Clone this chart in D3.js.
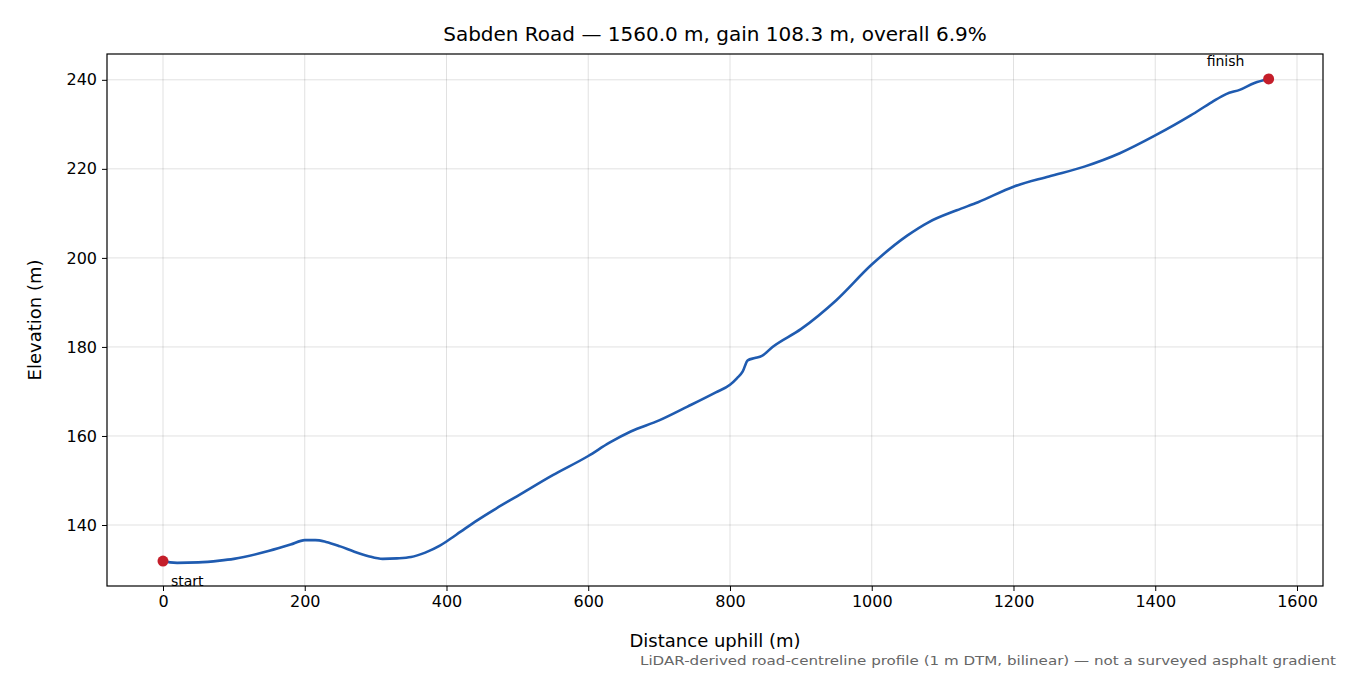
<!DOCTYPE html><html><head><meta charset="utf-8"><script src="https://cdn.jsdelivr.net/npm/d3@7"></script>
<style>body{margin:0;background:#fff}text{font-family:"DejaVu Sans",sans-serif}</style></head><body><svg id="c" width="1350" height="675"></svg><script>
const distances=[0,10,20,50,80,100,150,180,200,215,230,250,270,290,310,330,350,370,390,400,420,440,470,500,550,600,630,660,700,740,780,800,810,818,825,835,845,860,900,950,1000,1050,1080,1120,1150,1200,1250,1300,1350,1400,1450,1480,1500,1520,1540,1560];
const elevations=[131.9,131.6,131.5,131.6,132.0,132.4,134.2,135.6,136.6,136.6,136.2,135.2,134.0,133.0,132.4,132.5,132.8,133.8,135.3,136.3,138.5,140.7,143.7,146.5,151.2,155.5,158.5,161.0,163.5,166.6,169.8,171.5,173.0,174.5,177.0,177.5,178.0,180.0,184.0,190.5,198.5,205.0,208.0,210.7,212.5,216.0,218.3,220.5,223.5,227.5,232.0,235.0,236.8,237.8,239.3,240.2];
const xTicks=[0,200,400,600,800,1000,1200,1400,1600];
const yTicks=[140,160,180,200,220,240];
const svg=d3.select("#c");
const L=107,R=1323,T=54,B=586;
const x=d3.scaleLinear().domain([-79,1636.7]).range([L,R]);
const y=d3.scaleLinear().domain([126.3,245.8]).range([B,T]);
const g=svg.append("g");
g.selectAll(".gx").data(xTicks).join("line").attr("x1",d=>x(d)).attr("x2",d=>x(d)).attr("y1",T).attr("y2",B).attr("stroke","#000").attr("stroke-opacity",0.12);
g.selectAll(".gy").data(yTicks).join("line").attr("y1",d=>y(d)).attr("y2",d=>y(d)).attr("x1",L).attr("x2",R).attr("stroke","#000").attr("stroke-opacity",0.12);
const line=d3.line().x((d,i)=>x(distances[i])).y(d=>y(d)).curve(d3.curveMonotoneX);
svg.append("path").attr("d",line(elevations)).attr("fill","none").attr("stroke","#1f5bb0").attr("stroke-width",2.6);
const ends=[[distances[0],elevations[0]],[distances[distances.length-1],elevations[elevations.length-1]]];
svg.selectAll(".pt").data(ends).join("circle").attr("cx",d=>x(d[0])).attr("cy",d=>y(d[1])).attr("r",5.5).attr("fill","#c41e2a");
svg.append("text").attr("x",x(0)+8).attr("y",y(elevations[0])+25).attr("font-size",14).text("start");
svg.append("text").attr("x",x(1560)-62).attr("y",y(240.2)-13).attr("font-size",14).text("finish");
const fmt=d3.format("d");
const xa=svg.append("g").attr("transform",`translate(0,${B})`).call(d3.axisBottom(x).tickValues(xTicks).tickFormat(fmt).tickSize(5).tickPadding(5));
const ya=svg.append("g").attr("transform",`translate(${L},0)`).call(d3.axisLeft(y).tickValues(yTicks).tickFormat(fmt).tickSize(5).tickPadding(5));
[xa,ya].forEach(a=>{a.selectAll("text").attr("font-size",16).attr("font-family","DejaVu Sans");a.select(".domain").remove();});
svg.append("rect").attr("x",L).attr("y",T).attr("width",R-L).attr("height",B-T).attr("fill","none").attr("stroke","#000").attr("stroke-width",1.2);
svg.append("text").attr("x",(L+R)/2).attr("y",41).attr("text-anchor","middle").attr("font-size",20).text("Sabden Road — 1560.0 m, gain 108.3 m, overall 6.9%");
svg.append("text").attr("x",(L+R)/2).attr("y",647).attr("text-anchor","middle").attr("font-size",18).text("Distance uphill (m)");
svg.append("text").attr("transform",`translate(41,${(T+B)/2}) rotate(-90)`).attr("text-anchor","middle").attr("font-size",18).text("Elevation (m)");
svg.append("text").attr("x",1336).attr("y",665).attr("text-anchor","end").attr("font-size",13).attr("textLength",696).attr("lengthAdjust","spacingAndGlyphs").attr("fill","#666").text("LiDAR-derived road-centreline profile (1 m DTM, bilinear) — not a surveyed asphalt gradient");
</script></body></html>
